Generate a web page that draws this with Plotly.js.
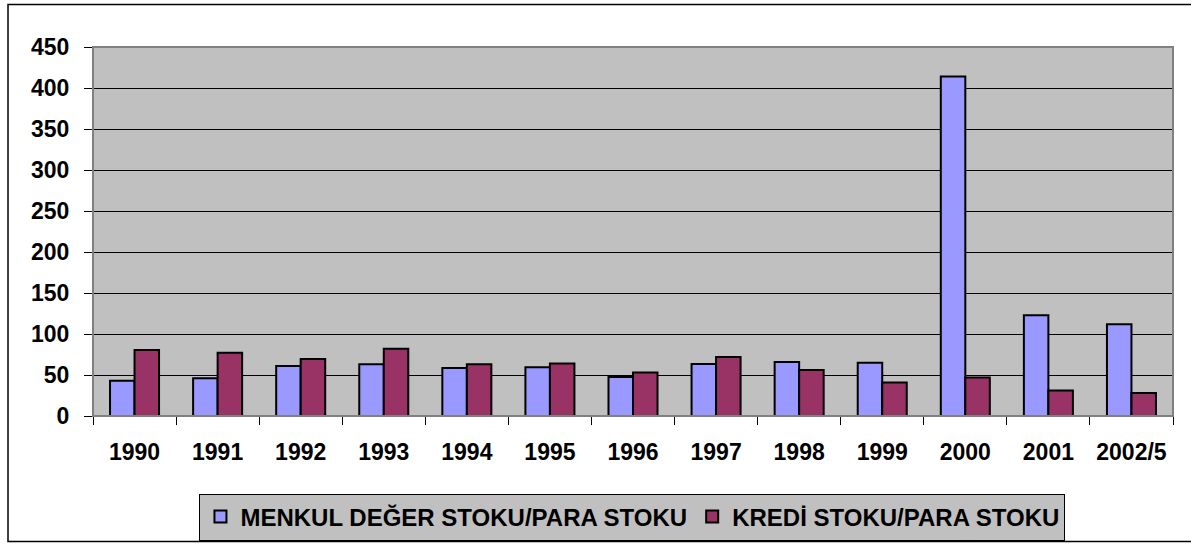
<!DOCTYPE html>
<html>
<head>
<meta charset="utf-8">
<script src="https://cdn.plot.ly/plotly-3.0.1.min.js"></script>
<style>
html,body{margin:0;padding:0;background:#fff;}
#chart{width:1191px;height:546px;}
</style>
</head>
<body>
<div id="chart"></div>
<script>
const categories = ['1990','1991','1992','1993','1994','1995','1996','1997','1998','1999','2000','2001','2002/5'];
const menkulDeger = [43, 46, 61, 63, 58.5, 59.5, 47.5, 63.5, 66, 65, 414, 123, 112];
const krediStoku = [80.5, 77, 69.5, 82, 63, 64, 53, 72, 56, 41, 47, 31, 28];
const seriesNames = ['MENKUL DEĞER STOKU/PARA STOKU', 'KREDİ STOKU/PARA STOKU'];
const yTicks = [0, 50, 100, 150, 200, 250, 300, 350, 400, 450];

const fontFam = '"Liberation Sans", Arial, sans-serif';

const traces = [
  {
    type: 'bar', name: seriesNames[0], x: categories, y: menkulDeger,
    marker: {color: '#9999FF', line: {color: '#000000', width: 2}}
  },
  {
    type: 'bar', name: seriesNames[1], x: categories, y: krediStoku,
    marker: {color: '#993366', line: {color: '#000000', width: 2}}
  }
];

const layout = {
  width: 1191, height: 546,
  margin: {l: 93, r: 18, t: 47, b: 130, pad: 0},
  paper_bgcolor: '#ffffff',
  plot_bgcolor: '#C0C0C0',
  barmode: 'group',
  bargap: 0.41,
  bargroupgap: 0,
  showlegend: true,
  font: {family: fontFam, color: '#000000', size: 23, weight: 'bold'},
  xaxis: {
    type: 'category',
    tickson: 'boundaries',
    ticks: 'outside', ticklen: 8, tickcolor: '#000000', tickwidth: 1,
    showline: true, linecolor: '#000000', linewidth: 1,
    showgrid: false, zeroline: false, automargin: false,
    tickfont: {family: fontFam, size: 23, color: '#000000', weight: 'bold'},
    ticklabelstandoff: 15
  },
  yaxis: {
    range: [0, 450],
    tickvals: yTicks,
    ticks: 'outside', ticklen: 8, tickcolor: '#000000', tickwidth: 1,
    showline: true, linecolor: '#000000', linewidth: 1,
    showgrid: true, gridcolor: '#000000', gridwidth: 1,
    zeroline: false, automargin: false,
    tickfont: {family: fontFam, size: 23, color: '#000000', weight: 'bold'},
    ticklabelstandoff: 10
  },
  legend: {
    orientation: 'h',
    xref: 'paper', x: 0.4995, xanchor: 'center',
    yref: 'container', y: 0.0531, yanchor: 'middle',
    bgcolor: '#C0C0C0', bordercolor: '#000000', borderwidth: 1,
    font: {family: fontFam, size: 24, color: '#000000', weight: 'bold'},
    traceorder: 'normal',
    itemclick: false, itemdoubleclick: false
  },
  shapes: [
    {type: 'rect', xref: 'paper', yref: 'paper', x0: 0, x1: 1, y0: 0, y1: 1,
     line: {color: '#808080', width: 2}, fillcolor: 'rgba(0,0,0,0)', layer: 'above'},
    {type: 'rect', xref: 'paper', yref: 'paper', x0: -0.0787, x1: 1.03, y0: -0.3401, y1: 1.1152,
     line: {color: '#000000', width: 1.5}, fillcolor: 'rgba(0,0,0,0)', layer: 'above'}
  ]
};

Plotly.newPlot('chart', traces, layout, {displayModeBar: false, staticPlot: true});
</script>
</body>
</html>
